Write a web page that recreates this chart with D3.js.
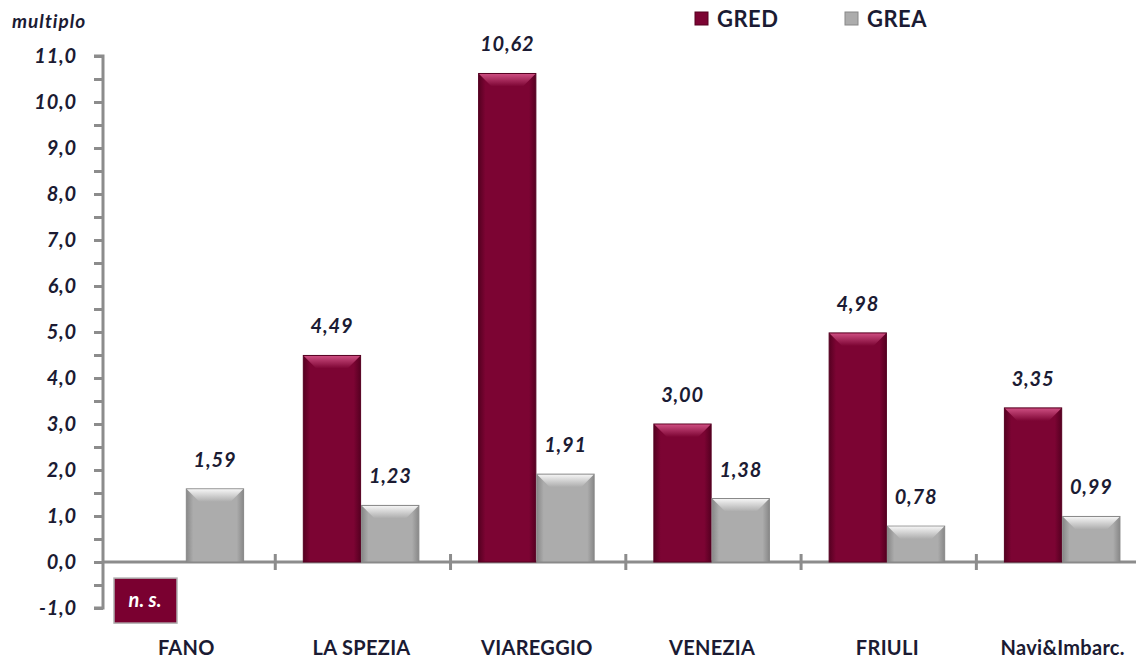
<!DOCTYPE html>
<html>
<head>
<meta charset="utf-8">
<script src="https://cdn.jsdelivr.net/npm/d3@7"></script>
<style>
  body { margin: 0; background: #fff; }
  svg text { font-family: Lato, "Open Sans", sans-serif; }
  .tick-label { font-size: 20px; font-weight: bold; font-style: italic; fill: #1b1b33; letter-spacing: 0.8px; }
  .cat-label { font-size: 20px; font-weight: bold; fill: #1b1b33; letter-spacing: 0.3px; }
  .val-label { font-size: 20px; font-weight: bold; font-style: italic; fill: #1b1b33; letter-spacing: 0.8px; }
</style>
</head>
<body>
<div id="chart"></div>
<script>
/* Data *************************************************************/

var categories = ['FANO', 'LA SPEZIA', 'VIAREGGIO', 'VENEZIA', 'FRIULI', 'Navi&Imbarc.'];
var series_names = ['GRED', 'GREA'];
var gred_values = [null, 4.49, 10.62, 3.00, 4.98, 3.35];
var grea_values = [1.59, 1.23, 1.91, 1.38, 0.78, 0.99];
var y_ticks = [-1, 0, 1, 2, 3, 4, 5, 6, 7, 8, 9, 10, 11];

/* Chart ************************************************************/

function build_chart()
{
    let width = 1136,
        height = 659,
        margin = { top: 56, bottom: 51, left: 103, right: -13 };

    let svg = d3.select('#chart').append('svg')
        .attr('width', width)
        .attr('height', height);

    let defs = svg.append('defs');
    let colors = { GRED: { base: '#7c0433', light: '#cc4d80', dark: '#560021' },
                   GREA: { base: '#acacac', light: '#f4f4f4', dark: '#888888' } };

    // bevel gradients
    Object.entries(colors).forEach(([k, c]) => {
        let g = defs.append('linearGradient').attr('id', 'side-' + k)
            .attr('x1', 0).attr('x2', 1).attr('y1', 0).attr('y2', 0);
        g.append('stop').attr('offset', '0').attr('stop-color', c.dark);
        g.append('stop').attr('offset', '0.12').attr('stop-color', c.base);
        g.append('stop').attr('offset', '0.88').attr('stop-color', c.base);
        g.append('stop').attr('offset', '1').attr('stop-color', c.dark);
        let t = defs.append('linearGradient').attr('id', 'top-' + k)
            .attr('x1', 0).attr('x2', 0).attr('y1', 0).attr('y2', 1);
        t.append('stop').attr('offset', '0').attr('stop-color', c.light);
        t.append('stop').attr('offset', '1').attr('stop-color', c.base);
    });

    let y = d3.scaleLinear()
        .domain([-1, 11])
        .range([height - margin.bottom, margin.top]);

    // categories are laid out from x=100 (axis sits at 103)
    let x0 = d3.scaleBand()
        .domain(categories)
        .range([100, width - margin.right])
        .paddingInner(0.335)
        .paddingOuter(0.16);

    let x1 = d3.scaleBand()
        .domain(series_names)
        .range([0, x0.bandwidth()]);

    let rows = [];
    categories.forEach((c, i) => {
        rows.push({ cat: c, s: 'GRED', v: gred_values[i] });
        rows.push({ cat: c, s: 'GREA', v: grea_values[i] });
    });

    // y axis (major + half-step minor ticks)
    let minor = d3.range(-1, 11.01, 0.5);
    let yaxis = svg.append('g')
        .attr('transform', `translate(${margin.left},0)`)
        .call(d3.axisLeft(y).tickValues(minor).tickSize(9).tickFormat(''));
    yaxis.select('.domain').attr('stroke', '#8c8c8c').attr('stroke-width', 3)
        .attr('d', `M-9,${y(11)}H0V${y(-1)}H-9`);
    yaxis.selectAll('.tick line').attr('stroke', '#8c8c8c').attr('stroke-width', 3);

    svg.append('g').selectAll('text').data(y_ticks).enter()
        .append('text')
        .attr('class', 'tick-label')
        .attr('x', 77)
        .attr('y', d => y(d) + 7)
        .attr('text-anchor', 'end')
        .text(d => d3.format('.1f')(d).replace('.', ',').replace('−', '-'));

    // x axis at zero
    let xline = svg.append('g');
    xline.append('line')
        .attr('x1', margin.left).attr('x2', width)
        .attr('y1', y(0)).attr('y2', y(0))
        .attr('stroke', '#8c8c8c').attr('stroke-width', 3);
    let step = x0.step();
    xline.selectAll('.ctick').data(categories.slice(1)).enter()
        .append('line')
        .attr('x1', d => x0(d) - step * 0.16).attr('x2', d => x0(d) - step * 0.16)
        .attr('y1', y(0) - 8).attr('y2', y(0) + 8)
        .attr('stroke', '#8c8c8c').attr('stroke-width', 3);

    // bars
    let bars = svg.append('g').selectAll('g.bar')
        .data(rows.filter(r => r.v !== null)).enter()
        .append('g').attr('class', 'bar');

    let bx = r => x0(r.cat) + x1(r.s),
        bw = x1.bandwidth() - 1,
        bev = 13;

    bars.append('rect')
        .attr('x', bx).attr('y', r => y(r.v))
        .attr('width', bw).attr('height', r => y(0) - y(r.v))
        .attr('fill', r => `url(#side-${r.s})`)
        .attr('stroke', r => colors[r.s].dark).attr('stroke-width', 1);

    bars.append('path')
        .attr('d', r => {
            let x = bx(r), t = y(r.v), b = Math.min(bev, (y(0) - t) / 2);
            return `M${x + 0.5},${t + 0.5}H${x + bw - 0.5}L${x + bw - b},${t + b}H${x + b}Z`;
        })
        .attr('fill', r => `url(#top-${r.s})`);

    // value labels
    svg.append('g').selectAll('text').data(rows.filter(r => r.v !== null)).enter()
        .append('text')
        .attr('class', 'val-label')
        .attr('x', r => bx(r) + bw / 2)
        .attr('y', r => y(r.v) - 22)
        .attr('text-anchor', 'middle')
        .text(r => d3.format('.2f')(r.v).replace('.', ','));

    // n. s. box for missing GRED
    rows.filter(r => r.v === null).forEach(r => {
        svg.append('rect')
            .attr('x', 114).attr('y', y(-0.35))
            .attr('width', 63).attr('height', 45)
            .attr('fill', '#7a0030').attr('stroke', '#b0b0b0').attr('stroke-width', 1.5);
        svg.append('text')
            .attr('x', 145).attr('y', y(-0.35) + 29)
            .attr('text-anchor', 'middle')
            .attr('fill', '#fff')
            .style('font-size', '20px').style('font-weight', 'bold').style('font-style', 'italic')
            .text('n. s.');
    });

    // category labels
    svg.append('g').selectAll('text').data(categories).enter()
        .append('text')
        .attr('class', 'cat-label')
        .attr('x', d => x0(d) + x0.bandwidth() / 2)
        .attr('y', 655)
        .attr('text-anchor', 'middle')
        .text(d => d);

    // y title
    svg.append('text')
        .attr('x', 12).attr('y', 28)
        .attr('fill', '#1b1b33')
        .style('font-size', '19px').style('font-weight', 'bold').style('font-style', 'italic')
        .style('letter-spacing', '1px')
        .text('multiplo');

    // legend
    let legend = svg.append('g').selectAll('g').data(series_names).enter()
        .append('g')
        .attr('transform', (d, i) => `translate(${695 + i * 150},12)`);
    legend.append('rect')
        .attr('width', 13).attr('height', 13)
        .attr('fill', d => colors[d].base)
        .attr('stroke', d => colors[d].dark);
    legend.append('text')
        .attr('x', 22).attr('y', 15)
        .attr('fill', '#1b1b33')
        .style('font-size', '22px').style('font-weight', 'bold')
        .style('letter-spacing', '0.5px')
        .text(d => d);
}

build_chart();
</script>
</body>
</html>
